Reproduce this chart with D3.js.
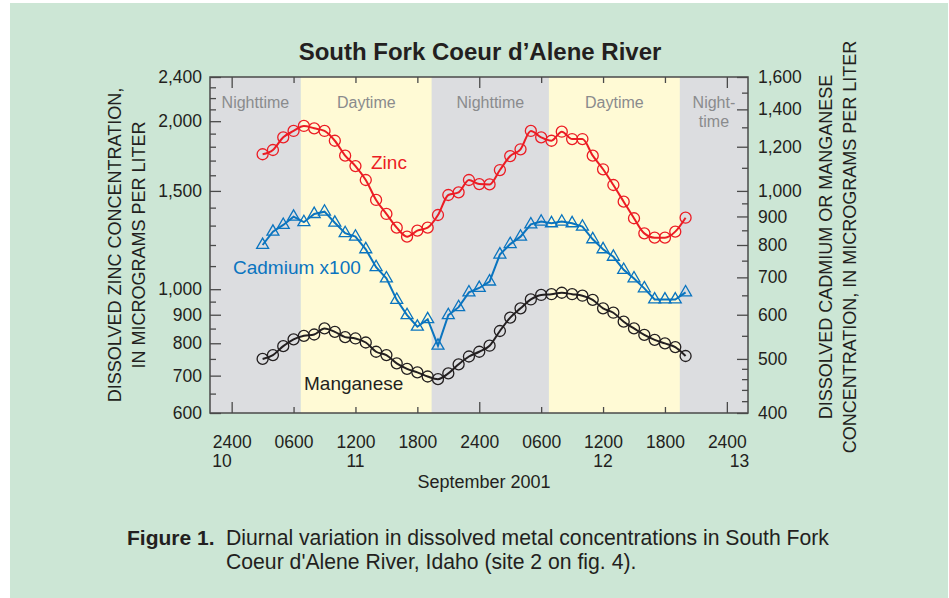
<!DOCTYPE html>
<html>
<head>
<meta charset="utf-8">
<script src="https://cdn.jsdelivr.net/npm/d3@7"></script>
<style>
  body { margin: 0; background: #ffffff; }
  svg text { font-family: "Liberation Sans", Arial, Helvetica, sans-serif; }
</style>
</head>
<body>
<svg id="chart" width="949" height="598"></svg>
<script>
// hours after 2400 on Sept 10
const hours = [3, 4, 5, 6, 7, 8, 9, 10, 11, 12, 13, 14, 15, 16, 17, 18, 19, 20, 21, 22, 23,
  24, 25, 26, 27, 28, 29, 30, 31, 32, 33, 34, 35, 36, 37, 38, 39, 40, 41, 42, 43, 44];

// zinc, micrograms per liter (left axis)
const zinc = [1745, 1776, 1871, 1921, 1961, 1942, 1921, 1845, 1735, 1662, 1569, 1445, 1364, 1289,
  1242, 1273, 1289, 1358, 1475, 1491, 1569, 1543, 1541, 1635, 1732, 1781, 1921, 1871, 1845, 1915,
  1858, 1858, 1735, 1640, 1537, 1435, 1340, 1259, 1237, 1237, 1268, 1343];

// cadmium x100 (right axis)
const cadmium = [800, 845, 869, 899, 879, 909, 918, 877, 840, 828, 786, 730, 697, 638, 599, 571,
  589, 528, 599, 619, 658, 670, 688, 769, 803, 828, 871, 881, 875, 881, 875, 863, 819, 786, 762,
  722, 697, 669, 639, 639, 639, 658];

// manganese (right axis)
const manganese = [500, 508, 527, 542, 550, 553, 567, 559, 547, 544, 535, 515, 508, 491, 480, 473,
  465, 460, 471, 489, 505, 515, 528, 561, 593, 616, 639, 651, 653, 657, 653, 649, 638, 616, 605,
  583, 567, 552, 541, 533, 525, 506];

// night / day periods (hours)
const bandStart = [-2.1, 6.7, 19.4, 30.75, 43.45];
const bandEnd = [6.7, 19.4, 30.75, 43.45, 50.05];
const bandNames = ["Nighttime", "Daytime", "Nighttime", "Daytime", "Night-|time"];

const hourTicks = [0, 6, 12, 18, 24, 30, 36, 42, 48];
const hourLabels = ["2400", "0600", "1200", "1800", "2400", "0600", "1200", "1800", "2400"];
const dayLabels = ["10", "11", "12", "13"];
const dayHours = [0, 12, 36, 48];

const leftMajor = [600, 700, 800, 900, 1000, 1500, 2000, 2400];
const leftMinor = [650, 750, 850, 950, 1100, 1200, 1300, 1400, 1600, 1700, 1800, 1900, 2100, 2200, 2300];
const rightMajor = [400, 500, 600, 700, 800, 900, 1000, 1200, 1400, 1600];
const rightMinor = [420, 440, 460, 480, 550, 650, 750, 850, 950, 1100, 1300, 1500];

const svg = d3.select("#chart");
const margins = { top: 77, right: 201, bottom: 185, left: 210 };
const width = +svg.attr("width");
const height = +svg.attr("height");
const plotRight = width - margins.right;
const plotBottom = height - margins.bottom;

const ink = "#231f20";
const red = "#ec1c24";
const blue = "#0a74bf";
const tickFont = 17.5;

// background panel
svg.append("rect").attr("x", 10).attr("y", 3).attr("width", 938).attr("height", 595)
  .attr("fill", "#cce6d5");

const xScale = d3.scaleLinear().domain([-2.1, 50.05]).range([margins.left, plotRight]);
const yLeft = d3.scaleLog().domain([600, 2400]).range([plotBottom, margins.top]);
const yRight = d3.scaleLog().domain([400, 1600]).range([plotBottom, margins.top]);

// night/day shading
bandNames.forEach((name, i) => {
  const night = name.startsWith("Night");
  svg.append("rect")
    .attr("x", xScale(bandStart[i]))
    .attr("y", margins.top)
    .attr("width", xScale(bandEnd[i]) - xScale(bandStart[i]))
    .attr("height", plotBottom - margins.top)
    .attr("fill", night ? "#dcdde0" : "#fffad5");
  const cx = (xScale(bandStart[i]) + xScale(bandEnd[i])) / 2;
  name.split("|").forEach((part, j) => {
    svg.append("text")
      .text(part)
      .attr("x", cx)
      .attr("y", 102 + j * 19)
      .attr("dy", "0.35em")
      .attr("text-anchor", "middle")
      .attr("font-size", 16)
      .attr("fill", "#8a8b8d");
  });
});

// axes (ticks point into the plot)
function styleAxis(g) {
  g.attr("font-family", null).attr("font-size", null);
  g.select(".domain").remove();
  g.selectAll(".tick line").attr("stroke", "#4a4a4a").attr("stroke-width", 1.3);
  g.selectAll(".tick text").attr("fill", ink).attr("font-size", tickFont);
}

svg.append("g").attr("transform", `translate(${margins.left},0)`)
  .call(d3.axisLeft(yLeft).tickValues(leftMajor).tickFormat(d3.format(",")).tickSizeInner(-11).tickSizeOuter(0).tickPadding(8))
  .call(styleAxis);
svg.append("g").attr("transform", `translate(${margins.left},0)`)
  .call(d3.axisLeft(yLeft).tickValues(leftMinor).tickFormat("").tickSizeInner(-6).tickSizeOuter(0))
  .call(styleAxis);
svg.append("g").attr("transform", `translate(${plotRight},0)`)
  .call(d3.axisRight(yRight).tickValues(rightMajor).tickFormat(d3.format(",")).tickSizeInner(-11).tickSizeOuter(0).tickPadding(10))
  .call(styleAxis);
svg.append("g").attr("transform", `translate(${plotRight},0)`)
  .call(d3.axisRight(yRight).tickValues(rightMinor).tickFormat("").tickSizeInner(-6).tickSizeOuter(0))
  .call(styleAxis);

const bottomAxis = svg.append("g").attr("transform", `translate(0,${plotBottom})`)
  .call(d3.axisBottom(xScale).tickValues(hourTicks).tickFormat((d, i) => hourLabels[i]).tickSizeOuter(0).tickPadding(17))
  .call(styleAxis);
bottomAxis.selectAll(".tick line").attr("y2", d => d % 24 === 0 ? -11 : -6);

svg.append("g").attr("transform", `translate(0,${margins.top})`)
  .call(d3.axisTop(xScale).tickValues(hourTicks).tickFormat("").tickSizeOuter(0))
  .call(styleAxis)
  .selectAll(".tick line").attr("y2", d => d % 24 === 0 ? 11 : 6);

// frame
svg.append("rect")
  .attr("x", margins.left).attr("y", margins.top)
  .attr("width", plotRight - margins.left).attr("height", plotBottom - margins.top)
  .attr("fill", "none").attr("stroke", "#4a4a4a").attr("stroke-width", 1.5);

// day labels under the hour labels
dayLabels.forEach((d, i) => {
  const anchor = i === 0 ? "end" : (i === dayLabels.length - 1 ? "start" : "middle");
  svg.append("text")
    .text(d)
    .attr("x", xScale(dayHours[i]) + (i === dayLabels.length - 1 ? 3 : 0))
    .attr("y", 461)
    .attr("dy", "0.35em")
    .attr("text-anchor", anchor)
    .attr("font-size", tickFont)
    .attr("fill", ink);
});

svg.append("text").text("September 2001")
  .attr("x", (margins.left + plotRight) / 2 + 5).attr("y", 482).attr("dy", "0.35em")
  .attr("text-anchor", "middle").attr("font-size", 18).attr("fill", ink);

// series
function drawSeries(values, yScale, color, curve, marker) {
  const pts = hours.map((h, i) => [xScale(h), yScale(values[i])]);
  svg.append("path")
    .datum(pts)
    .attr("d", d3.line().curve(curve))
    .attr("fill", "none")
    .attr("stroke", color)
    .attr("stroke-width", 2);
  if (marker === "circle") {
    svg.append("g").selectAll("circle").data(pts).join("circle")
      .attr("cx", d => d[0]).attr("cy", d => d[1]).attr("r", 5.5)
      .attr("fill", "none").attr("stroke", color).attr("stroke-width", 1.3);
  } else {
    svg.append("g").selectAll("path").data(pts).join("path")
      .attr("transform", d => `translate(${d[0]},${d[1]})`)
      .attr("d", d3.symbol(d3.symbolTriangle, 62))
      .attr("fill", "none").attr("stroke", color).attr("stroke-width", 1.3);
  }
}

drawSeries(manganese, yRight, ink, d3.curveMonotoneX, "circle");
drawSeries(cadmium, yRight, blue, d3.curveLinear, "triangle");
drawSeries(zinc, yLeft, red, d3.curveMonotoneX, "circle");

// series labels
svg.append("text").text("Zinc").attr("x", 371).attr("y", 162).attr("dy", "0.35em")
  .attr("font-size", 19).attr("fill", red);
svg.append("text").text("Cadmium x100").attr("x", 233).attr("y", 267).attr("dy", "0.35em")
  .attr("font-size", 19).attr("fill", blue);
svg.append("text").text("Manganese").attr("x", 304).attr("y", 383).attr("dy", "0.35em")
  .attr("font-size", 19).attr("fill", ink);

// title
svg.append("text").text("South Fork Coeur d\u2019Alene River")
  .attr("x", 480).attr("y", 52).attr("dy", "0.35em")
  .attr("text-anchor", "middle").attr("font-size", 24).attr("font-weight", "bold").attr("fill", ink);

// axis titles
function verticalTitle(lines, xs, cy) {
  lines.forEach((t, i) => {
    svg.append("text").text(t)
      .attr("transform", `translate(${xs[i]},${cy}) rotate(-90)`)
      .attr("dy", "0.35em")
      .attr("text-anchor", "middle")
      .attr("font-size", 18)
      .attr("fill", ink);
  });
}
verticalTitle(["DISSOLVED ZINC CONCENTRATION,", "IN MICROGRAMS PER LITER"], [115, 139], 245);
verticalTitle(["DISSOLVED CADMIUM OR MANGANESE", "CONCENTRATION, IN MICROGRAMS PER LITER"], [826, 850], 247);

// caption
svg.append("text").text("Figure 1.").attr("x", 127).attr("y", 538).attr("dy", "0.35em")
  .attr("font-size", 21).attr("font-weight", "bold").attr("fill", ink);
svg.append("text").text("Diurnal variation in dissolved metal concentrations in South Fork")
  .attr("x", 226).attr("y", 538).attr("dy", "0.35em").attr("font-size", 21.2).attr("fill", ink);
svg.append("text").text("Coeur d'Alene River, Idaho (site 2 on fig. 4).")
  .attr("x", 226).attr("y", 562).attr("dy", "0.35em").attr("font-size", 21.2).attr("fill", ink);
</script>
</body>
</html>
